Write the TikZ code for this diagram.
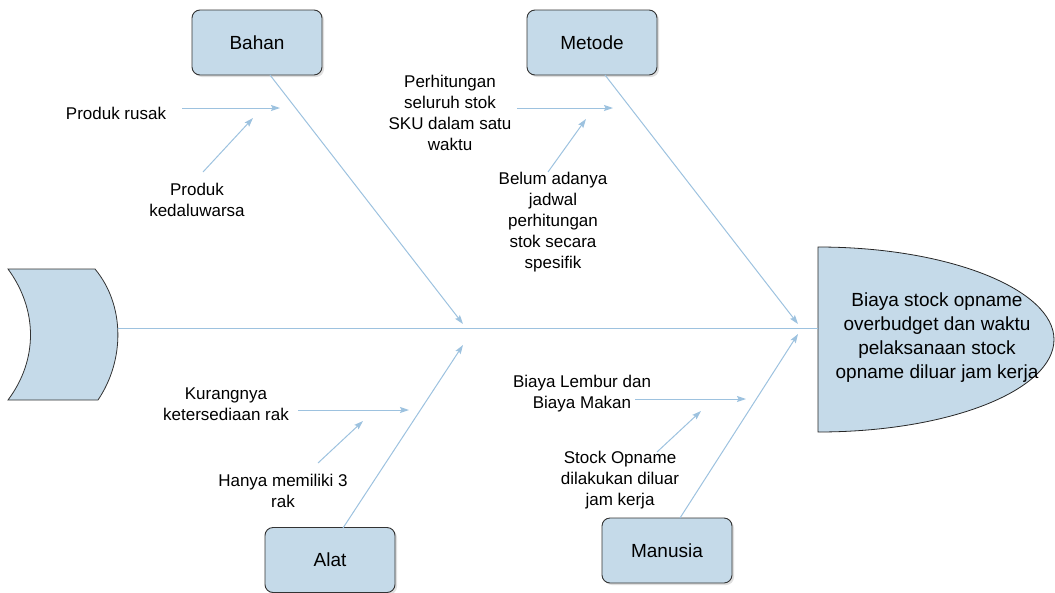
\documentclass[tikz,border=0pt]{standalone}
\usepackage{fontspec}
\setmainfont{Liberation Sans}
\usetikzlibrary{arrows.meta,shadows}
\definecolor{boxfill}{HTML}{C5DAE9}
\definecolor{bone}{HTML}{9DC2DF}
\definecolor{edge}{HTML}{333333}
\begin{document}
\begin{tikzpicture}[x=1pt,y=-1pt,
  catbox/.style={draw=edge,line width=0.9pt,fill=boxfill,rounded corners=8pt,
    minimum width=130pt,minimum height=65pt,inner sep=0pt,
    font=\fontsize{19}{23}\selectfont,
    drop shadow={opacity=0.25,shadow xshift=2pt,shadow yshift=-2pt}},
  lbl/.style={align=center,inner sep=0pt,font=\fontsize{17}{21}\selectfont,text=black},
  bonel/.style={draw=bone,line width=1pt},
  arr/.style={bonel,-{Stealth[length=9pt,width=6pt,inset=1.5pt]}}]
\useasboundingbox (0,0) rectangle (1055,592);
% tail
\draw[draw=black!80,line width=0.8pt,fill=boxfill]
  (8,269) -- (95,269) .. controls (125,305) and (125,360) .. (98,400)
  -- (8,400) .. controls (38,360) and (38,310) .. (8,269) -- cycle;
\coordinate (tailR) at (117.5,328);
% head
\draw[draw=black!85,line width=0.8pt,fill=boxfill]
  (818,247) .. controls (950,247) and (1054,290) .. (1054,339.5)
  .. controls (1054,390) and (950,432) .. (818,432) -- cycle;
\coordinate (headL) at (818,328);
\node[align=center,inner sep=0pt,font=\fontsize{19}{24}\selectfont,text=black] (effect) at (937,338)
  {Biaya stock opname\\overbudget dan waktu\\pelaksanaan stock\\opname diluar jam kerja};
% spine
\draw[bonel] (tailR) -- (headL);
% category boxes
\node[catbox] (bahan) at (257,42.5) {Bahan};
\node[catbox] (metode) at (592,42.5) {Metode};
\node[catbox] (alat) at (330,560) {Alat};
\node[catbox] (manusia) at (667,550.5) {Manusia};
% main bones
\coordinate (bahanS) at (270,75);
\coordinate (bahanT) at (463,324);
\coordinate (metodeS) at (605,75);
\coordinate (metodeT) at (798,324);
\coordinate (alatS) at (343,528);
\coordinate (alatT) at (463,345);
\coordinate (manusiaS) at (680,518);
\coordinate (manusiaT) at (798,334);
\draw[arr] (bahanS) -- (bahanT);
\draw[arr] (metodeS) -- (metodeT);
\draw[arr] (alatS) -- (alatT);
\draw[arr] (manusiaS) -- (manusiaT);
% labels
\node[lbl] (rusak) at (116,113) {Produk rusak};
\node[lbl] (kedal) at (197,200) {Produk\\kedaluwarsa};
\node[lbl] (hitung) at (450,113) {Perhitungan\\seluruh stok\\SKU dalam satu\\waktu};
\node[lbl] (jadwal) at (553,222) {Belum adanya\\jadwal\\perhitungan\\stok secara\\spesifik};
\node[lbl] (kurang) at (226,404) {Kurangnya\\ketersediaan rak};
\node[lbl] (hanya) at (283,491) {Hanya memiliki 3\\rak};
\node[lbl] (lembur) at (582,394) {Biaya Lembur dan\\Biaya Makan};
\node[lbl] (opname) at (620,480) {Stock Opname\\dilakukan diluar\\jam kerja};
% sub arrows
\coordinate (a1s) at (182,108); \coordinate (a1t) at (280,108);
\coordinate (a2s) at (203,172); \coordinate (a2t) at (253,118);
\coordinate (a3s) at (517,108); \coordinate (a3t) at (613,108);
\coordinate (a4s) at (548,172); \coordinate (a4t) at (586,119);
\coordinate (a5s) at (298,410); \coordinate (a5t) at (409,410);
\coordinate (a6s) at (318,463); \coordinate (a6t) at (363,421);
\coordinate (a7s) at (635,399); \coordinate (a7t) at (746,399);
\coordinate (a8s) at (657,452); \coordinate (a8t) at (701,411);
\draw[arr] (a1s) -- (a1t);
\draw[arr] (a2s) -- (a2t);
\draw[arr] (a3s) -- (a3t);
\draw[arr] (a4s) -- (a4t);
\draw[arr] (a5s) -- (a5t);
\draw[arr] (a6s) -- (a6t);
\draw[arr] (a7s) -- (a7t);
\draw[arr] (a8s) -- (a8t);
\end{tikzpicture}
\end{document}
